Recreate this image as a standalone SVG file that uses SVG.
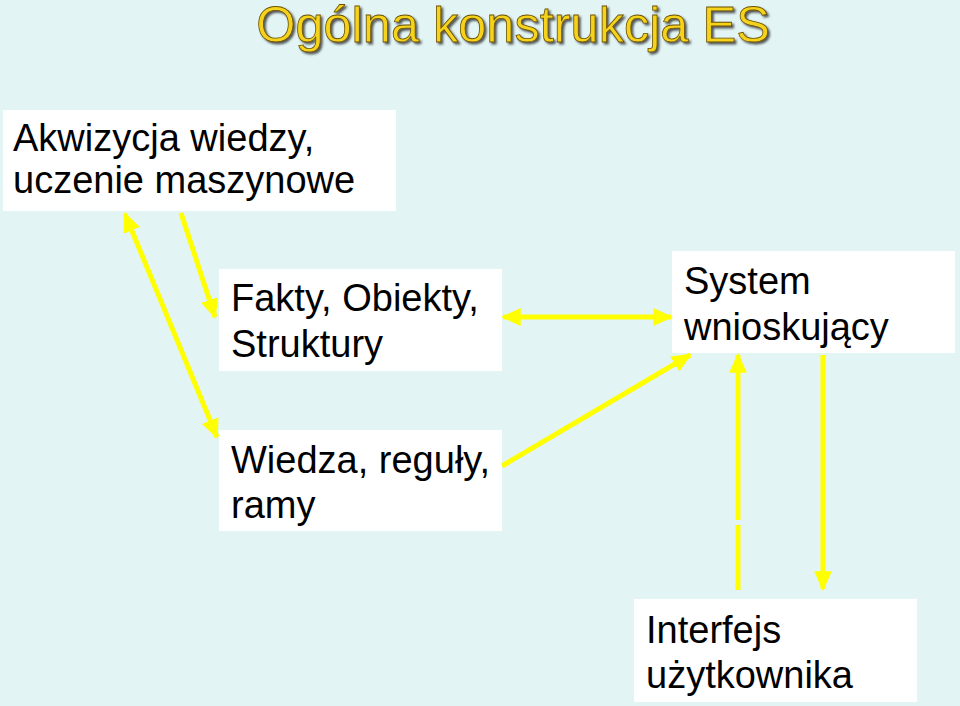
<svg xmlns="http://www.w3.org/2000/svg" width="960" height="706" viewBox="0 0 960 706">
<style>
.box{fill:#ffffff}
.t{font-family:"Liberation Sans",Arial,Helvetica,sans-serif;font-size:38px;fill:#000}
.title{font-family:"Liberation Sans",Arial,Helvetica,sans-serif;font-size:50.5px;text-anchor:middle}
.c{stroke:#ffff00;stroke-width:5;fill:none}
</style>
<defs>
<marker id="ah" markerUnits="userSpaceOnUse" markerWidth="20" markerHeight="18" refX="16" refY="8" orient="auto-start-reverse" viewBox="0 0 18 16">
<path d="M0,0 L18,8 L0,16 Z" fill="#ffff00"/>
</marker>
<filter id="sh" x="-5%" y="-20%" width="110%" height="150%">
<feDropShadow dx="2" dy="2" stdDeviation="0.8" flood-color="#333333" flood-opacity="0.8"/>
</filter>
</defs>
<rect width="960" height="706" fill="#e2f4f4"/>
<g id="title">
<text class="title" x="513" y="42" fill="#f5d21a" stroke="#6b5200" stroke-width="0.8" filter="url(#sh)">Ogólna konstrukcja ES</text>
</g>
<g id="akwizycja">
<rect class="box" x="3" y="110" width="393" height="101"/>
<text class="t" x="13" y="151">Akwizycja wiedzy,</text>
<text class="t" x="13" y="193">uczenie maszynowe</text>
</g>
<g id="fakty">
<rect class="box" x="219" y="269" width="283" height="102"/>
<text class="t" x="231" y="311">Fakty, Obiekty,</text>
<text class="t" x="231" y="357">Struktury</text>
</g>
<g id="system">
<rect class="box" x="672" y="251" width="283" height="102"/>
<text class="t" x="684" y="294">System</text>
<text class="t" x="684" y="340">wnioskujący</text>
</g>
<g id="wiedza">
<rect class="box" x="219" y="430" width="283" height="101"/>
<text class="t" x="231" y="473">Wiedza, reguły,</text>
<text class="t" x="231" y="518">ramy</text>
</g>
<g id="interfejs">
<rect class="box" x="634" y="599" width="283" height="103"/>
<text class="t" x="646" y="643">Interfejs</text>
<text class="t" x="646" y="688">użytkownika</text>
</g>
<g id="connectors">
<line class="c" x1="125" y1="214" x2="217" y2="437" marker-start="url(#ah)" marker-end="url(#ah)"/>
<line class="c" x1="181" y1="213" x2="215" y2="317" marker-end="url(#ah)"/>
<line class="c" x1="503" y1="317" x2="671" y2="317" marker-start="url(#ah)" marker-end="url(#ah)"/>
<line class="c" x1="502" y1="466" x2="690" y2="355" marker-end="url(#ah)"/>
<line class="c" x1="738" y1="520" x2="738" y2="355" marker-end="url(#ah)"/>
<line class="c" x1="738" y1="590" x2="738" y2="525"/>
<line class="c" x1="823" y1="355" x2="823" y2="589" marker-end="url(#ah)"/>
</g>
</svg>
